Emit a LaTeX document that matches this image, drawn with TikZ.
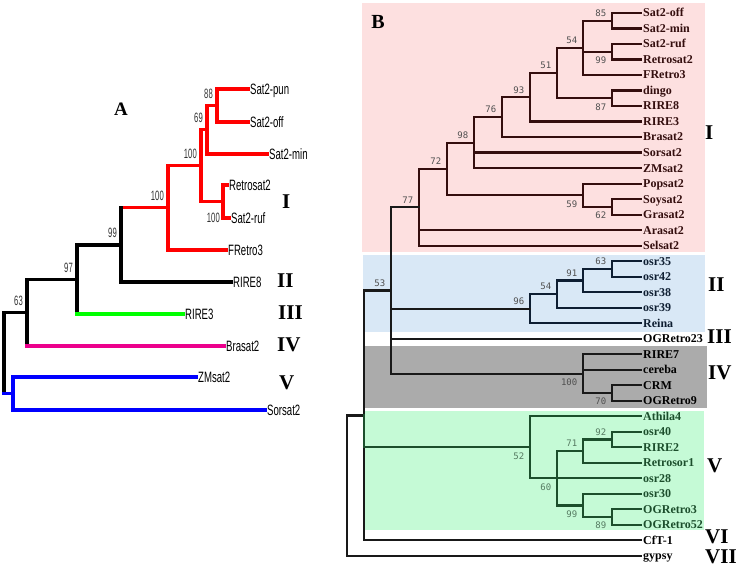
\documentclass[tikz,border=0pt]{standalone}
\usepackage{fontspec}
\setmainfont{Liberation Serif}
\newfontfamily\narrowsans[FakeStretch=0.64]{Liberation Sans}
\newfontfamily\numsans[FakeStretch=0.57]{Liberation Sans}
\newfontfamily\bsmono{DejaVu Sans Mono}
\usetikzlibrary{calc}
\definecolor{cladepink}{RGB}{253,224,224}
\definecolor{cladeblue}{RGB}{217,232,246}
\definecolor{cladegray}{RGB}{171,171,171}
\definecolor{cladegreen}{RGB}{197,250,214}
\definecolor{pinkline}{RGB}{52,14,14}
\definecolor{blueline}{RGB}{14,30,50}
\definecolor{greenline}{RGB}{28,78,44}
\definecolor{bsgray}{RGB}{80,80,80}
\tikzset{
  treeA/.style={line width=3.3pt, line cap=rect},
  treeB/.style={line width=2.2pt, line cap=rect},
  leafA/.style={anchor=west, inner sep=2pt, text height=10.7pt, text depth=0pt, font={\narrowsans\fontsize{15}{15}\selectfont}},
  leafB/.style={anchor=west, inner sep=2pt, text height=7.8pt, text depth=0pt, font={\bfseries\fontsize{12}{12}\selectfont}},
  bootA/.style={inner sep=0pt, text=black!80, font={\numsans\fontsize{13.5}{13.5}\selectfont}},
  bupA/.style={bootA, anchor=south east, xshift=-4pt, yshift=7pt},
  bdnA/.style={bootA, anchor=north east, xshift=-3pt, yshift=-11pt},
  bootB/.style={inner sep=0pt, text=bsgray, font={\bsmono\fontsize{9}{9}\selectfont}},
  bupB/.style={bootB, anchor=south east, xshift=-5.5pt, yshift=4pt},
  bdnB/.style={bootB, anchor=north east, xshift=-5.5pt, yshift=-5pt},
  roman/.style={anchor=west, inner sep=0pt, font={\bfseries\fontsize{21}{21}\selectfont}},
  panel/.style={inner sep=0pt, font={\bfseries\fontsize{19}{19}\selectfont}}
}
\begin{document}
\begin{tikzpicture}[x=1pt, y=-1pt]
  \fill[white] (0,0) rectangle (744,568);
  \useasboundingbox (0,0) rectangle (744,568);

  % panel A
  \node[panel] (pA) at (121,109) {A};
  \coordinate (a88) at (217,105.5);
  \coordinate (a69) at (207,129.8);
  \coordinate (aRS) at (223,201.5);
  \coordinate (a100a) at (201,165.6);
  \coordinate (a100b) at (168,207.8);
  \coordinate (a99) at (121,244.9);
  \coordinate (a97) at (77,279.5);
  \coordinate (a63) at (27,312.7);
  \coordinate (aZ) at (13,393.5);
  \coordinate (aroot) at (4,353.1);
  \node[leafA] (apun) at (248,89) {Sat2-pun};
  \node[leafA] (aoff) at (248,122) {Sat2-off};
  \node[leafA] (amin) at (267,154) {Sat2-min};
  \node[leafA] (aretro) at (227,185) {Retrosat2};
  \node[leafA] (aruf) at (229,218) {Sat2-ruf};
  \node[leafA] (afretro) at (226,250) {FRetro3};
  \node[leafA] (arire8) at (231,282) {RIRE8};
  \node[leafA] (arire3) at (183,314) {RIRE3};
  \node[leafA] (abrasat) at (224,346) {Brasat2};
  \node[leafA] (azm) at (196,377) {ZMsat2};
  \node[leafA] (asor) at (265,410) {Sorsat2};

  \draw[treeA, red] (a88) |- (apun.west) (a88) |- (aoff.west)
    (a69) |- (a88) (a69) |- (amin.west)
    (aRS) |- (aretro.west) (aRS) |- (aruf.west)
    (a100a) |- (a69) (a100a) |- (aRS)
    (a100b) |- (a100a) (a100b) |- (afretro.west)
    (a99 |- a100b) -- (a100b);
  \draw[treeA] (a99) |- (arire8.west) (a99) -- (a99 |- a100b)
    (a97) |- (a99) (a97) -- (a97 |- arire3.west)
    (a63) |- (a97) (a63) -- (a63 |- abrasat.west)
    (aroot) |- (a63) (aroot) -- (aroot |- aZ);
  \draw[treeA, green] (a97 |- arire3.west) -- (arire3.west);
  \draw[treeA, magenta] (a63 |- abrasat.west) -- (abrasat.west);
  \draw[treeA, blue] (aroot |- aZ) -- (aZ) (aZ) |- (azm.west) (aZ) |- (asor.west);

  \node[bupA] (l88) at (a88) {88};
  \node[bupA] (l69) at (a69) {69};
  \node[bupA] (l100a) at (a100a) {100};
  \node[bupA] (l100b) at (a100b) {100};
  \node[bdnA] (l100c) at (aRS) {100};
  \node[bupA] (l99) at (a99) {99};
  \node[bupA] (l97) at (a97) {97};
  \node[bupA] (l63) at (a63) {63};

  \node[roman] (rAI) at (282,202) {I};
  \node[roman] (rAII) at (277,281) {II};
  \node[roman] (rAIII) at (278,313) {III};
  \node[roman] (rAIV) at (277,345) {IV};
  \node[roman] (rAV) at (279,383) {V};

  % panel B
  \fill[cladepink] (362,3) rectangle (705,252);
  \fill[cladeblue] (363,255) rectangle (705,332);
  \fill[cladegray] (363,346) rectangle (707,408);
  \fill[cladegreen] (363,411) rectangle (704,530);
  \node[panel, font={\bfseries\fontsize{20}{20}\selectfont}] (pB) at (378,22) {B};

  \begin{scope}[yshift=-13pt, y=-15.51pt]
    \foreach \nm/\txt [count=\i from 0] in {bsoff/Sat2-off, bsmin/Sat2-min, bsruf/Sat2-ruf,
        brsat/Retrosat2, bfret/FRetro3, bdingo/dingo, brire8/RIRE8, brire3/RIRE3,
        bbra/Brasat2, bsor/Sorsat2, bzm/ZMsat2, bpop/Popsat2, bsoy/Soysat2,
        bgra/Grasat2, bara/Arasat2, bsel/Selsat2}
      \node[leafB, text=pinkline] (\nm) at (641,\i) {\txt};
    \foreach \nm/\txt [count=\i from 16] in {bosr35/osr35, bosr42/osr42, bosr38/osr38,
        bosr39/osr39, breina/Reina}
      \node[leafB, text=blueline] (\nm) at (641,\i) {\txt};
    \node[leafB] (bogr23) at (641,21) {OGRetro23};
    \foreach \nm/\txt [count=\i from 22] in {brire7/RIRE7, bcereba/cereba, bcrm/CRM, bogr9/OGRetro9}
      \node[leafB] (\nm) at (641,\i) {\txt};
    \foreach \nm/\txt [count=\i from 26] in {bathila/Athila4, bosr40/osr40, brire2/RIRE2,
        bretro/Retrosor1, bosr28/osr28, bosr30/osr30, bogr3/OGRetro3, bogr52/OGRetro52}
      \node[leafB, text=greenline] (\nm) at (641,\i) {\txt};
    \node[leafB] (bcft) at (641,34) {CfT-1};
    \node[leafB] (bgypsy) at (641,35) {gypsy};

    \coordinate (b85) at (612,0.5);
    \coordinate (b99a) at (612,2.5);
    \coordinate (b54a) at (583,2.25);
    \coordinate (b87) at (612,5.5);
    \coordinate (b51) at (557,3.875);
    \coordinate (b93) at (530,5.4375);
    \coordinate (b76) at (502,6.72);
    \coordinate (b98) at (474,8.36);
    \coordinate (b62) at (612,12.5);
    \coordinate (b59) at (583,11.75);
    \coordinate (b72) at (447,10.055);
    \coordinate (b77) at (419,12.53);
    \coordinate (b63) at (612,16.5);
    \coordinate (b91) at (583,17.25);
    \coordinate (b54b) at (557,18.125);
    \coordinate (b96) at (530,19.06);
    \coordinate (b70) at (612,24.5);
    \coordinate (b100) at (583,23.25);
    \coordinate (b53) at (391,17.89);
    \coordinate (b92) at (612,27.5);
    \coordinate (b71) at (583,28.25);
    \coordinate (b89) at (612,32.5);
    \coordinate (b99b) at (583,31.75);
    \coordinate (b60) at (557,30);
    \coordinate (b52) at (530,28);
    \coordinate (bA) at (364,25.95);
    \coordinate (broot) at (347,30.47);

    \foreach \p/\c in {b85/bsoff.west, b85/bsmin.west, b99a/bsruf.west, b99a/brsat.west,
        b54a/b85, b54a/b99a, b54a/bfret.west, b87/bdingo.west, b87/brire8.west,
        b51/b54a, b51/b87, b93/b51, b93/brire3.west, b76/b93, b76/bbra.west,
        b98/b76, b98/bsor.west, b98/bzm.west, b62/bsoy.west, b62/bgra.west,
        b59/bpop.west, b59/b62, b72/b98, b72/b59, b77/b72, b77/bara.west, b77/bsel.west}
      \draw[treeB, pinkline] (\p) |- (\c);
    \foreach \p/\c in {b63/bosr35.west, b63/bosr42.west, b91/b63, b91/bosr38.west,
        b54b/b91, b54b/bosr39.west, b96/b54b, b96/breina.west}
      \draw[treeB, blueline] (\p) |- (\c);
    \foreach \p/\c in {b70/bcrm.west, b70/bogr9.west, b100/brire7.west, b100/bcereba.west,
        b100/b70, b53/b77, b53/b96, b53/bogr23.west, b53/b100, bA/b53, bA/bcft.west,
        broot/bA, broot/bgypsy.west}
      \draw[treeB, black!90] (\p) |- (\c);
    \foreach \p/\c in {b92/bosr40.west, b92/brire2.west, b71/b92, b71/bretro.west,
        b89/bogr3.west, b89/bogr52.west, b99b/bosr30.west, b99b/b89,
        b60/b71, b60/bosr28.west, b60/b99b, b52/bathila.west, b52/b60, bA/b52}
      \draw[treeB, greenline] (\p) |- (\c);

    \foreach \c/\v in {b85/85, b54a/54, b51/51, b93/93, b76/76, b98/98, b72/72, b77/77,
        b63/63, b91/91, b54b/54, b96/96, b53/53}
      \node[bupB] (bs\c) at (\c) {\v};
    \foreach \c/\v in {b99a/99, b87/87, b62/62, b59/59, b100/100, b70/70}
      \node[bdnB] (bs\c) at (\c) {\v};
    \node[bupB, text=greenline!75] (bsb92) at (b92) {92};
    \node[bupB, text=greenline!75] (bsb71) at (b71) {71};
    \foreach \c/\v in {b52/52, b60/60, b99b/99, b89/89}
      \node[bdnB, text=greenline!75] (bs\c) at (\c) {\v};
  \end{scope}

  \node[roman] (rBI) at (705,133) {I};
  \node[roman] (rBII) at (708,285) {II};
  \node[roman] (rBIII) at (707,337) {III};
  \node[roman] (rBIV) at (708,373) {IV};
  \node[roman] (rBV) at (707,466) {V};
  \node[roman] (rBVI) at (705,537) {VI};
  \node[roman] (rBVII) at (705,557) {VII};
\end{tikzpicture}
\end{document}
